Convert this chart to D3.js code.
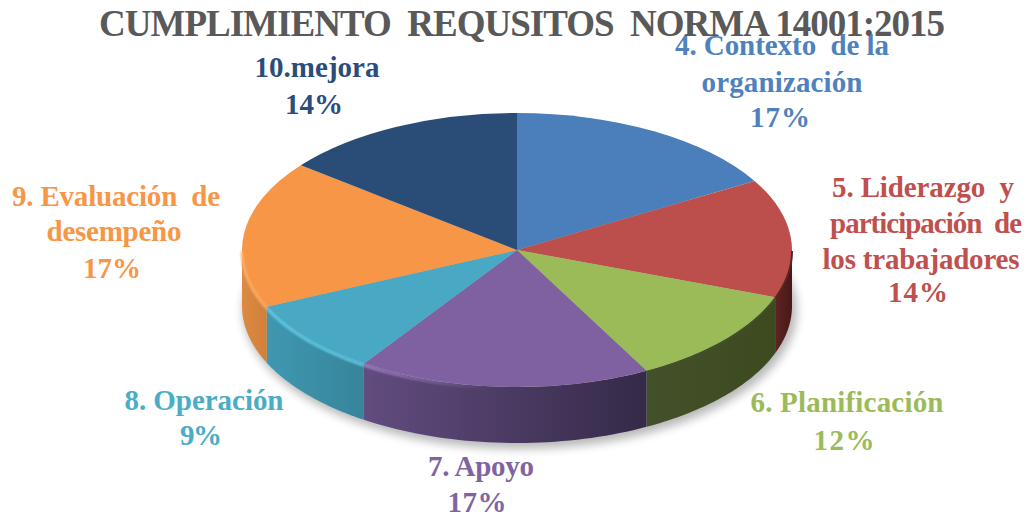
<!DOCTYPE html>
<html><head><meta charset="utf-8">
<script src="https://cdn.jsdelivr.net/npm/d3@7"></script>
<style>html,body{margin:0;padding:0;background:#fff}svg{display:block}text{font-family:"Liberation Serif",serif;font-weight:bold}</style>
</head><body><svg id="c" width="1028" height="517"></svg>
<script>
const titleText = "CUMPLIMIENTO  REQUSITOS  NORMA 14001:2015";
const categories = ["4. Contexto  de la|organización","5. Liderazgo  y|participación  de|los trabajadores","6. Planificación","7. Apoyo","8. Operación","9. Evaluación  de|desempeño","10.mejora"];
const values = [16.6,14.0,11.6,17.2,8.8,17.4,14.4];
const topColors = ["#4b7fbb","#bc4f4c","#9bbb59","#7f60a0","#4aa8c4","#f79646","#2b4d78"];
const wallLeft = ["#3a6291","#5e2422","#43512a","#624c80","#3f98b0","#dd8a42","#22395a"];
const wallRight = ["#2f5077","#481816","#3d4a20","#352a48","#37849b","#d0803a","#1d304c"];
const rimColors = [null,null,null,"url(#rimP)","#62d0ec","#ffb068",null];
const labelColors = ["#4f81bd","#c0504d","#9bbb59","#8064a2","#4bacc6","#f79646","#2b4d7c"];
// layout of label lines: centre x, baseline y, width
const labelLayout = [
 [[782,55,214],[782,92,161],[780,127,60]],
 [[923,197,182],[926,233,192],[921,269,197],[918,302,60]],
 [[847,412,193],[844,450,61]],
 [[481,476,106],[477,512,59]],
 [[204,410,159],[201,445,42]],
 [[116,206,208],[114,241,135],[112,278,58]],
 [[317,77,125],[314,114,58]]
];
const cx=517, cy=250, rx=275, ry=137, depth=56;
const svg=d3.select("#c");
const defs=svg.append("defs");
const blur=(id,s)=>defs.append("filter").attr("id",id).attr("filterUnits","userSpaceOnUse").attr("x",0).attr("y",0).attr("width",1028).attr("height",517).append("feGaussianBlur").attr("stdDeviation",s);
blur("sh",5);blur("rim",0.9);blur("soft",0.6);blur("edge",0.35);
const rimP=defs.append("linearGradient").attr("id","rimP").attr("gradientUnits","userSpaceOnUse").attr("x1",362).attr("x2",490).attr("y1",0).attr("y2",0);
rimP.append("stop").attr("offset",0).attr("stop-color","#a586c8");
rimP.append("stop").attr("offset",1).attr("stop-color","#a586c8").attr("stop-opacity",0);

const pie=d3.pie().sort(null).value(d=>d);
const arcs=pie(values);
const xS=d3.scaleLinear().domain([-1,1]).range([cx-rx,cx+rx]);
const yS=d3.scaleLinear().domain([-1,1]).range([cy-ry,cy+ry]);
const px=a=>xS(Math.sin(a)), py=a=>yS(-Math.cos(a));
const samples=(a0,a1)=>d3.range(0,41).map(i=>a0+(a1-a0)*i/40);

// shadow
svg.append("ellipse").attr("cx",cx+3).attr("cy",cy+depth+4).attr("rx",rx+2).attr("ry",ry+2).attr("fill","#000").attr("opacity",0.28).attr("filter","url(#sh)");

// walls
const wallG=svg.append("g");
const line=d3.line().x(d=>d[0]).y(d=>d[1]);
arcs.forEach((d,i)=>{
  const a0=Math.max(d.startAngle,Math.PI/2), a1=Math.min(d.endAngle,3*Math.PI/2);
  if(a1<=a0) return;
  const gid="w"+i;
  const lg=defs.append("linearGradient").attr("id",gid).attr("gradientUnits","userSpaceOnUse")
    .attr("x1",Math.min(px(a0),px(a1))).attr("x2",Math.max(px(a0),px(a1))).attr("y1",0).attr("y2",0);
  lg.append("stop").attr("offset",0).attr("stop-color",wallLeft[i]);
  lg.append("stop").attr("offset",1).attr("stop-color",wallRight[i]);
  const s=samples(a0,a1);
  const pts=s.map(a=>[px(a),py(a)]).concat(s.slice().reverse().map(a=>[px(a),py(a)+depth]));
  wallG.append("path").attr("d",line(pts)+"Z").attr("fill",`url(#${gid})`);
});

// top faces
const arcGen=d3.arc().innerRadius(0).outerRadius(rx);
const topOuter=svg.append("g").attr("filter","url(#edge)");
const topG=topOuter.append("g").attr("transform",`translate(${cx},${cy}) scale(1,${ry/rx})`);
topG.selectAll("path").data(arcs).join("path").attr("d",arcGen).attr("fill",(d,i)=>topColors[i]);

// rim highlights on the front edge
arcs.forEach((d,i)=>{
  if(!rimColors[i]) return;
  const a0=Math.max(d.startAngle,Math.PI/2), a1=Math.min(d.endAngle,3*Math.PI/2);
  if(a1<=a0) return;
  const s=samples(a0,a1);
  svg.append("path").attr("d",line(s.map(a=>[px(a),py(a)+1.5]))).attr("fill","none")
    .attr("stroke",rimColors[i]).attr("stroke-width",2.5).attr("filter","url(#rim)");
});
// dark soft edge on the green and red slices
[1,2].forEach(i=>{
  const d=arcs[i];
  const a0=Math.max(d.startAngle,Math.PI/2), a1=d.endAngle;
  svg.append("path").attr("d",line(samples(a0,a1).map(a=>[px(a),py(a)+1]))).attr("fill","none")
    .attr("stroke",wallLeft[i]).attr("stroke-width",2).attr("filter","url(#soft)");
});

// labels
const pctFmt=d3.format(".0f");
const lab=svg.append("g").attr("text-anchor","middle").attr("font-size",29);
categories.forEach((c,i)=>{
  const lines=c.split("|").concat(pctFmt(values[i])+"%");
  lines.forEach((t,j)=>{
    const [x,y,w]=labelLayout[i][j];
    lab.append("text").attr("x",x).attr("y",y).attr("fill",labelColors[i])
      .style("white-space","pre")
      .attr("textLength",w).attr("lengthAdjust","spacing").text(t);
  });
});
// title
svg.append("text").attr("x",522).attr("y",36).attr("text-anchor","middle").attr("font-size",37)
  .attr("fill","#595959").style("white-space","pre").attr("textLength",846).attr("lengthAdjust","spacing").text(titleText);
</script></body></html>
